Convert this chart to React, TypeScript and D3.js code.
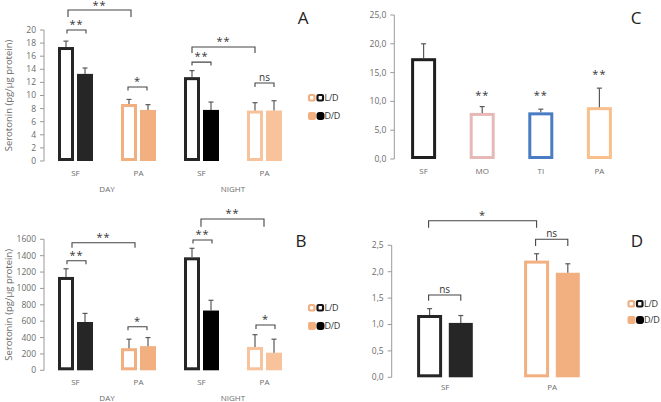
import React from "react";
import * as d3 from "d3";

// ---------- DATA ----------
const catsAB = ["SF", "PA", "SF", "PA"];
const periodsAB = ["DAY", "NIGHT"];

const aLD = [17.4, 8.7, 12.8, 7.7];
const aLDerr = [0.9, 0.7, 1.0, 1.2];
const aDD = [13.3, 7.8, 7.8, 7.7];
const aDDerr = [0.9, 0.8, 1.2, 1.5];
const aTicks = [0, 2, 4, 6, 8, 10, 12, 14, 16, 18, 20];

const bLD = [1140, 270, 1380, 285];
const bLDerr = [100, 110, 110, 150];
const bDD = [590, 295, 730, 215];
const bDDerr = [105, 105, 125, 165];
const bTicks = [0, 200, 400, 600, 800, 1000, 1200, 1400, 1600];

const cCats = ["SF", "MO", "TI", "PA"];
const cVals = [17.5, 8.0, 8.1, 9.0];
const cErr = [2.5, 1.1, 0.55, 3.3];
const cSig = ["", "**", "**", "**"];
const cSigLevel = [0, 10.5, 10.5, 14.1];
const cTicks = [0, 5, 10, 15, 20, 25];

const dCats = ["SF", "PA"];
const dLD = [1.18, 2.21];
const dLDerr = [0.12, 0.13];
const dDD = [1.03, 1.98];
const dDDerr = [0.14, 0.17];
const dTicks = [0, 0.5, 1, 1.5, 2, 2.5];

// brackets: [catFrom, seriesFrom(0=LD,1=DD), catTo, seriesTo, level value, label]
const aBrackets: [number, number, number, number, number, string][] = [
  [0, 0, 1, 0, 23.05, "**"],
  [0, 0, 0, 1, 20.0, "**"],
  [1, 0, 1, 1, 11.3, "*"],
  [2, 0, 3, 0, 17.4, "**"],
  [2, 0, 2, 1, 15.1, "**"],
  [3, 0, 3, 1, 11.9, "ns"],
];
const bBrackets: [number, number, number, number, number, string][] = [
  [0, 0, 1, 0, 1558, "**"],
  [0, 0, 0, 1, 1338, "**"],
  [1, 0, 1, 1, 532, "*"],
  [2, 0, 3, 0, 1848, "**"],
  [2, 0, 2, 1, 1592, "**"],
  [3, 0, 3, 1, 553, "*"],
];
const dBrackets: [number, number, number, number, number, string][] = [
  [0, 0, 1, 0, 2.966, "*"],
  [1, 0, 1, 1, 2.614, "ns"],
  [0, 0, 0, 1, 1.559, "ns"],
];

// ---------- STYLE ----------
const FONT = "'Open Sans', 'Liberation Sans', sans-serif";
const GREY = "#6b6b6b";
const AXIS = "#9a9a9a";
const ERR = "#595959";
const BR = "#444";

function groupColor(cat: number, series: number) {
  const isPA = cat % 2 === 1;
  const night = cat >= 2;
  if (isPA) return night ? "#F8C29A" : "#F2AF80";
  if (series === 0) return "#262626";
  return night ? "#000000" : "#262626";
}

function YAxis({ x, y, ticks, fmt }: any) {
  const [y0, y1] = y.range();
  return (
    <g>
      <line x1={x} x2={x} y1={y0} y2={y1} stroke={AXIS} strokeWidth={1} />
      {ticks.map((t: number) => (
        <g key={t}>
          <line x1={x - 4} x2={x} y1={y(t)} y2={y(t)} stroke={AXIS} strokeWidth={1} />
          <text x={x - 8} y={y(t)} dy="0.35em" textAnchor="end" fontSize={8.5} fill={GREY} fontFamily={FONT}>
            {fmt(t)}
          </text>
        </g>
      ))}
    </g>
  );
}

function Bar({ cx, w, v, err, y, color, hollow }: any) {
  const top = y(v);
  const base = y(0);
  const sw = 3;
  const et = y(v + err);
  return (
    <g>
      {hollow ? (
        <rect x={cx - w / 2 + sw / 2} y={top + sw / 2} width={w - sw} height={base - top - sw} fill="#fff" stroke={color} strokeWidth={sw} />
      ) : (
        <rect x={cx - w / 2} y={top} width={w} height={base - top} fill={color} />
      )}
      <line x1={cx} x2={cx} y1={top} y2={et} stroke={ERR} strokeWidth={1.2} />
      <line x1={cx - 2.5} x2={cx + 2.5} y1={et} y2={et} stroke={ERR} strokeWidth={1.2} />
    </g>
  );
}

function Bracket({ x1, x2, yy, leg, label }: any) {
  return (
    <g>
      <path d={`M${x1},${yy + leg}V${yy}H${x2}V${yy + leg}`} fill="none" stroke={BR} strokeWidth={1.1} />
      <text x={(x1 + x2) / 2} y={Math.max(yy - 2, 9)} textAnchor="middle" fontSize={label === "ns" ? 10 : 11} fill="#333" fontFamily={FONT} letterSpacing={label === "ns" ? 0 : 1}>
        {label}
      </text>
    </g>
  );
}

function Legend({ x, y1, y2 }: any) {
  return (
    <g fontFamily={FONT} fontSize={9} fill="#333">
      <rect x={x + 1} y={y1 - 3} width={5.5} height={5.5} rx={1.5} fill="#fff" stroke="#F2AF80" strokeWidth={2.2} />
      <rect x={x + 9.5} y={y1 - 3} width={5.5} height={5.5} rx={1} fill="#fff" stroke="#111" strokeWidth={2.2} />
      <text x={x + 16.5} y={y1} dy="0.35em" letterSpacing={-0.3}>L/D</text>
      <rect x={x} y={y2 - 4} width={8} height={8} rx={2} fill="#F2AF80" />
      <rect x={x + 8.5} y={y2 - 4} width={8} height={8} rx={3} fill="#000" />
      <text x={x + 16.5} y={y2} dy="0.35em" letterSpacing={-0.3}>D/D</text>
    </g>
  );
}

function PanelAB({ ld, lde, dd, dde, ticks, yTop, yBottom, brackets, title, letter, letterY, legY, brLegs, brShift, catY, perY }: any) {
  const x = d3.scaleBand<number>().domain(d3.range(4)).range([44, 296]).paddingInner(0).paddingOuter(0);
  const y = d3.scaleLinear().domain([0, ticks[ticks.length - 1]]).range([yBottom, yTop]);
  const w = 16;
  const off = 9.5;
  const cx = (c: number, s: number) => (x(c) as number) + x.bandwidth() / 2 + (s === 0 ? -off : off);
  return (
    <g>
      <YAxis x={44} y={y} ticks={ticks} fmt={(t: number) => String(t)} />
      <text transform={`translate(9,${(yTop + yBottom) / 2}) rotate(-90)`} textAnchor="middle" dy="0.35em" fontSize={9.5} fill={GREY} fontFamily={FONT}>
        {title}
      </text>
      {catsAB.map((c, i) => (
        <g key={i}>
          <Bar cx={cx(i, 0)} w={w} v={ld[i]} err={lde[i]} y={y} color={groupColor(i, 0)} hollow />
          <Bar cx={cx(i, 1)} w={w} v={dd[i]} err={dde[i]} y={y} color={groupColor(i, 1)} />
          <text x={(x(i) as number) + x.bandwidth() / 2} y={catY} dy="0.35em" textAnchor="middle" fontSize={8} fill={GREY} fontFamily={FONT}>
            {c}
          </text>
        </g>
      ))}
      {periodsAB.map((p, i) => (
        <text key={p} x={(x(i * 2) as number) + x.bandwidth()} y={perY} dy="0.35em" textAnchor="middle" fontSize={8} fill={GREY} fontFamily={FONT}>
          {p}
        </text>
      ))}
      {brackets.map((b: any, i: number) => (
        <Bracket key={i} x1={cx(b[0], b[1]) + brShift[i]} x2={cx(b[2], b[3]) + brShift[i]} yy={y(b[4])} leg={brLegs[i]} label={b[5]} />
      ))}
      <text x={letter === "A" ? 303 : 301} y={letterY} dy="0.35em" textAnchor="middle" fontSize={17} fill="#222" fontFamily={FONT}>
        {letter}
      </text>
      <Legend x={308} y1={legY[0]} y2={legY[1]} />
    </g>
  );
}

function PanelC() {
  const x = d3.scaleBand<string>().domain(cCats).range([394.3, 628.7]);
  const y = d3.scaleLinear().domain([0, 25]).range([159, 15]);
  const colors = ["#1f1f1f", "#E6B9B8", "#4A7CC4", "#F9C08E"];
  const fmt = d3.format(".1f");
  return (
    <g>
      <YAxis x={394.3} y={y} ticks={cTicks} fmt={(t: number) => fmt(t).replace(".", ",")} />
      {cCats.map((c, i) => {
        const cx = (x(c) as number) + x.bandwidth() / 2;
        return (
          <g key={c}>
            <Bar cx={cx} w={25} v={cVals[i]} err={cErr[i]} y={y} color={colors[i]} hollow />
            <text x={cx} y={171} dy="0.35em" textAnchor="middle" fontSize={8} fill={GREY} fontFamily={FONT}>{c}</text>
            {cSig[i] && (
              <text x={cx} y={y(cSigLevel[i])} textAnchor="middle" fontSize={11} fill="#333" fontFamily={FONT} letterSpacing={1}>{cSig[i]}</text>
            )}
          </g>
        );
      })}
      <text x={636} y={18} dy="0.35em" textAnchor="middle" fontSize={17} fill="#222" fontFamily={FONT}>C</text>
    </g>
  );
}

function PanelD() {
  const x = d3.scaleBand<string>().domain(dCats).range([391.7, 605.7]);
  const y = d3.scaleLinear().domain([0, 2.5]).range([377.3, 245.3]);
  const fmt = d3.format(".1f");
  const colors = ["#262626", "#F2AF80"];
  const cx = (c: number, s: number) => (x(dCats[c]) as number) + x.bandwidth() / 2 + (s === 0 ? -15.6 : 15.6);
  const legs = [7, 6.7, 5.7];
  return (
    <g>
      <YAxis x={391.7} y={y} ticks={dTicks} fmt={(t: number) => fmt(t).replace(".", ",")} />
      {dCats.map((c, i) => (
        <g key={c}>
          <Bar cx={cx(i, 0)} w={25} v={dLD[i]} err={dLDerr[i]} y={y} color={colors[i]} hollow />
          <Bar cx={cx(i, 1)} w={24} v={dDD[i]} err={dDDerr[i]} y={y} color={colors[i]} />
          <text x={(x(c) as number) + x.bandwidth() / 2} y={387} dy="0.35em" textAnchor="middle" fontSize={8} fill={GREY} fontFamily={FONT}>{c}</text>
        </g>
      ))}
      {dBrackets.map((b, i) => (
        <Bracket key={i} x1={cx(b[0], b[1]) - 1} x2={cx(b[2], b[3])} yy={y(b[4])} leg={legs[i]} label={b[5]} />
      ))}
      <text x={637} y={241} dy="0.35em" textAnchor="middle" fontSize={17} fill="#222" fontFamily={FONT}>D</text>
      <Legend x={627.5} y1={304} y2={320} />
    </g>
  );
}

export default function App() {
  return (
    <svg width={661} height={402} style={{ position: "absolute", left: 0, top: 0, background: "#fff" }}>
      <rect width={661} height={402} fill="#fff" />
      <PanelAB ld={aLD} lde={aLDerr} dd={aDD} dde={aDDerr} ticks={aTicks} yTop={30} yBottom={161}
        brackets={aBrackets} title="Serotonin (pg/µg protein)" letter="A" letterY={18} legY={[98, 116]}
        brLegs={[7, 3.5, 3.5, 6, 3.5, 4]} brShift={[2, 1, -1, 0, 0, 0]} catY={173} perY={189} />
      <PanelAB ld={bLD} lde={bLDerr} dd={bDD} dde={bDDerr} ticks={bTicks} yTop={239.3} yBottom={370.3}
        brackets={bBrackets} title="Serotonin (pg/µg protein)" letter="B" letterY={241} legY={[308, 326]}
        brLegs={[5, 3.5, 3.5, 7.7, 3.5, 4]} brShift={[6, 1, -1, 9, 1, 1]} catY={382} perY={398} />
      <PanelC />
      <PanelD />
    </svg>
  );
}
